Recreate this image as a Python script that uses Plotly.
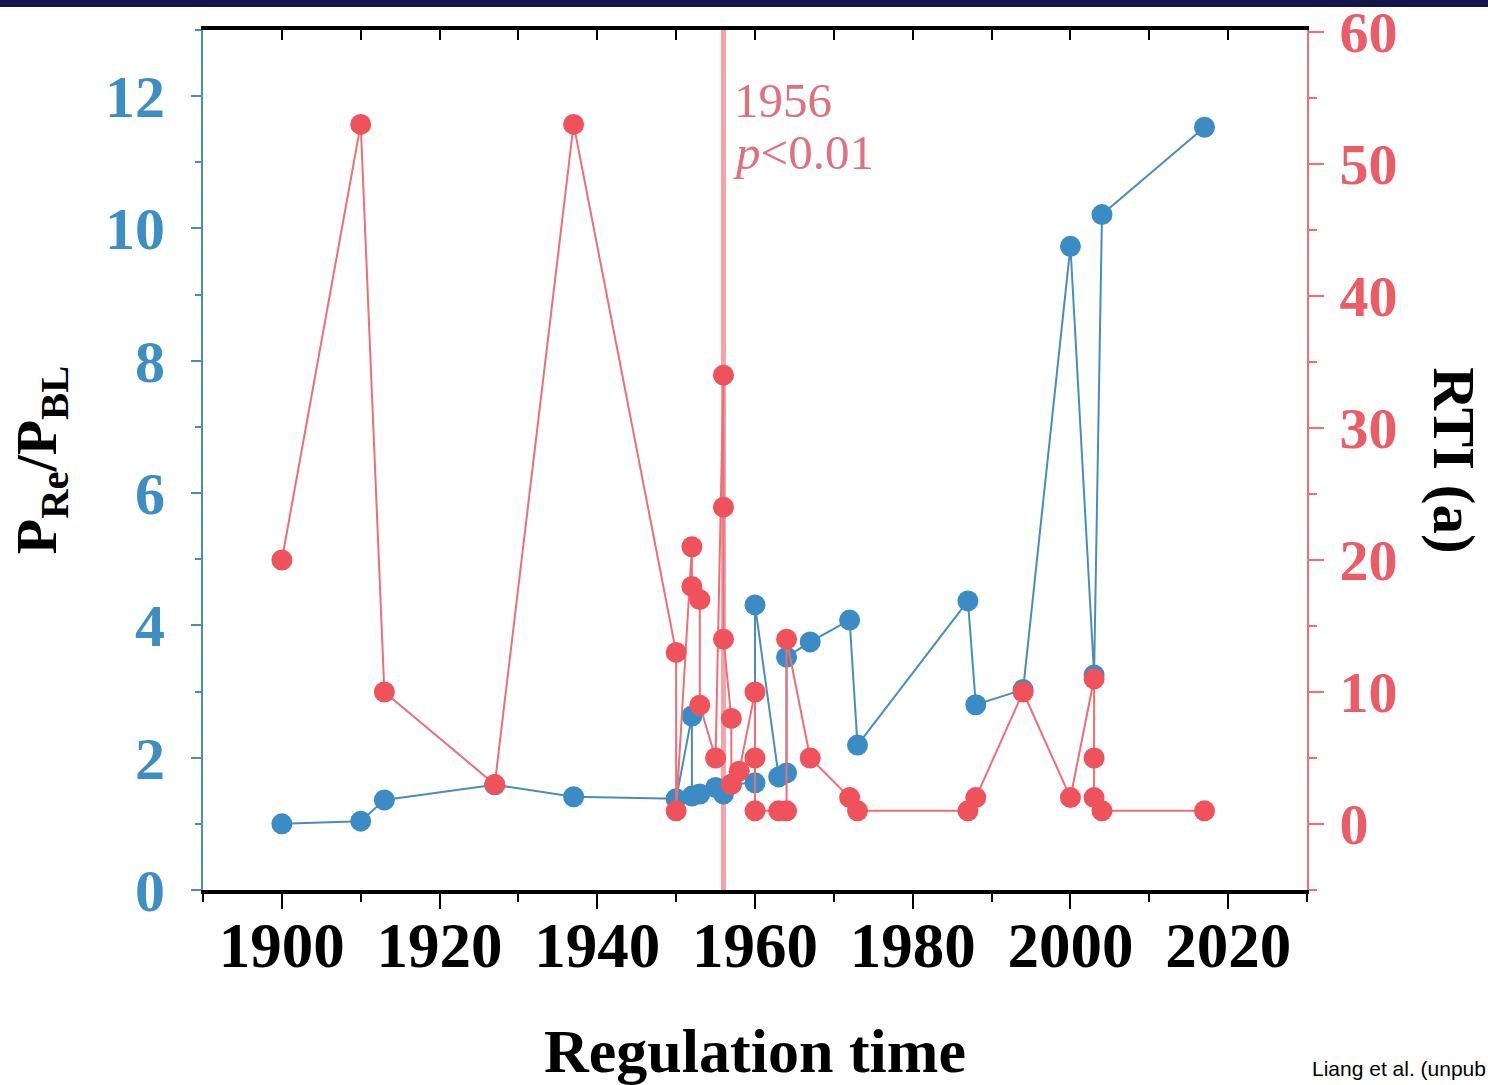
import plotly.graph_objects as go

# P_Re / P_BL ratio against regulation year
ratio_years = [1900, 1910, 1913, 1927, 1937, 1950, 1952, 1952, 1953, 1955, 1956, 1957,
               1960, 1960, 1963, 1964, 1964, 1967, 1972, 1973, 1987, 1988, 1994, 2000,
               2003, 2004, 2017]
ratio_values = [1.0, 1.04, 1.36, 1.59, 1.41, 1.38, 2.63, 1.42, 1.45, 1.55, 1.45, 1.6,
                1.62, 4.31, 1.71, 1.77, 3.52, 3.75, 4.08, 2.19, 4.37, 2.8, 3.03, 9.73,
                3.25, 10.21, 11.53]

# RTI (a) against regulation year
rti_years = [1900, 1910, 1913, 1927, 1937, 1950, 1950, 1952, 1952, 1953, 1953, 1955,
             1956, 1956, 1956, 1957, 1957, 1958, 1960, 1960, 1960, 1963, 1964, 1964,
             1967, 1972, 1973, 1987, 1988, 1994, 2000, 2003, 2003, 2003, 2004, 2017]
rti_values = [20, 53, 10, 3, 53, 13, 1, 21, 18, 17, 9, 5,
              34, 24, 14, 8, 3, 4, 10, 5, 1, 1, 1, 14,
              5, 2, 1, 1, 2, 10, 2, 11, 5, 2, 1, 1]

# change point
break_year = 1956
break_label = "1956"
break_p = "<i>p</i><0.01"

x_ticks = [1900, 1920, 1940, 1960, 1980, 2000, 2020]
left_ticks = [0, 2, 4, 6, 8, 10, 12]
right_ticks = [0, 10, 20, 30, 40, 50, 60]

BLUE = "#3b8cc4"
BLUE_LINE = "#4a8dbd"
RED = "#f0525c"
RED_LINE = "#ee6e76"
BLUE_TXT = "#3d8ec2"
RED_TXT = "#ec5c66"
NOTE = "#e2707c"
SERIF = "Liberation Serif"

fig = go.Figure()

fig.add_trace(go.Scatter(
    x=ratio_years, y=ratio_values, mode="lines+markers",
    line=dict(color=BLUE_LINE, width=2),
    marker=dict(color=BLUE, size=21),
    yaxis="y", showlegend=False, name="P_Re/P_BL"))

fig.add_trace(go.Scatter(
    x=rti_years, y=rti_values, mode="lines+markers",
    line=dict(color=RED_LINE, width=2),
    marker=dict(color=RED, size=21),
    yaxis="y2", showlegend=False, name="RTI"))

# carrier for the top frame axis
fig.add_trace(go.Scatter(x=[None], y=[None], xaxis="x2", yaxis="y",
                         showlegend=False, hoverinfo="skip"))

fig.add_shape(type="line", xref="x", yref="paper",
              x0=break_year, x1=break_year, y0=0, y1=1,
              line=dict(color="#f4a3a8", width=5), layer="below")

# dark band along the top of the slide
fig.add_shape(type="rect", xref="paper", yref="paper",
              x0=-0.5, x1=1.5, y0=1.0267, y1=1.06,
              line=dict(width=0), fillcolor="#13144a")

fig.add_annotation(x=break_year, y=11.93, xref="x", yref="y", text=break_label,
                   showarrow=False, xanchor="left", yanchor="middle", xshift=9,
                   font=dict(family=SERIF, size=49, color=NOTE))
fig.add_annotation(x=break_year, y=11.15, xref="x", yref="y", text=break_p,
                   showarrow=False, xanchor="left", yanchor="middle", xshift=8,
                   font=dict(family=SERIF, size=49, color=NOTE))

fig.add_annotation(x=1.133, y=0.5, xref="paper", yref="paper", text="<b>RTI (a)</b>",
                   showarrow=False, textangle=90, xanchor="center", yanchor="middle",
                   font=dict(family=SERIF, size=59, color="black"))

fig.add_annotation(x=1.164, y=-0.207, xref="paper", yref="paper",
                   text="Liang et al. (unpub", showarrow=False,
                   xanchor="right", yanchor="middle",
                   font=dict(family="Liberation Sans", size=21, color="black"))

fig.update_layout(
    width=1488, height=1085,
    margin=dict(l=203, r=181, t=30, b=195, autoexpand=False),
    paper_bgcolor="white", plot_bgcolor="white",
    xaxis=dict(
        range=[1890, 2030], tickvals=x_ticks, ticktext=[str(v) for v in x_ticks],
        ticks="outside", ticklen=15, tickwidth=2, tickcolor="black",
        minor=dict(dtick=10, tick0=1890, ticks="outside", ticklen=8, tickwidth=2,
                   tickcolor="black"),
        showline=True, linecolor="black", linewidth=4, showgrid=False, zeroline=False,
        ticklabelstandoff=-18, automargin=False,
        tickfont=dict(family=SERIF, size=63, color="black", weight="bold"),
        title=dict(text="<b>Regulation time</b>", standoff=55,
                   font=dict(family=SERIF, size=62, color="black")),
    ),
    xaxis2=dict(
        range=[1890, 2030], overlaying="x", side="top", anchor="y",
        tick0=1890, dtick=10, ticks="inside", ticklen=10, tickwidth=2,
        tickcolor="black", showticklabels=False, showline=True,
        linecolor="black", linewidth=4, showgrid=False, zeroline=False,
        automargin=False,
    ),
    yaxis=dict(
        range=[0, 13], tickvals=left_ticks, ticktext=[str(v) for v in left_ticks],
        ticks="outside", ticklen=10, tickwidth=2, tickcolor=BLUE_LINE,
        minor=dict(dtick=1, tick0=0, ticks="outside", ticklen=6, tickwidth=2,
                   tickcolor=BLUE_LINE),
        showline=True, linecolor=BLUE_LINE, linewidth=2, showgrid=False,
        zeroline=False, ticklabelstandoff=14, automargin=False,
        tickfont=dict(family=SERIF, size=60, color=BLUE_TXT, weight="bold"),
        title=dict(text="<b>P<sub>Re</sub>/P<sub>BL</sub></b>", standoff=30,
                   font=dict(family=SERIF, size=58, color="black")),
    ),
    yaxis2=dict(
        range=[-5, 60.15], tickvals=right_ticks, ticktext=[str(v) for v in right_ticks],
        overlaying="y", side="right", anchor="x",
        ticks="outside", ticklen=15, tickwidth=2, tickcolor=RED_LINE,
        minor=dict(dtick=5, tick0=0, ticks="outside", ticklen=8, tickwidth=2,
                   tickcolor=RED_LINE),
        showline=True, linecolor=RED_LINE, linewidth=2, showgrid=False,
        zeroline=False, ticklabelstandoff=4, automargin=False,
        ticklabeloverflow="allow",
        tickfont=dict(family=SERIF, size=58, color=RED_TXT, weight="bold"),
    ),
)

fig.write_html("out.html")
